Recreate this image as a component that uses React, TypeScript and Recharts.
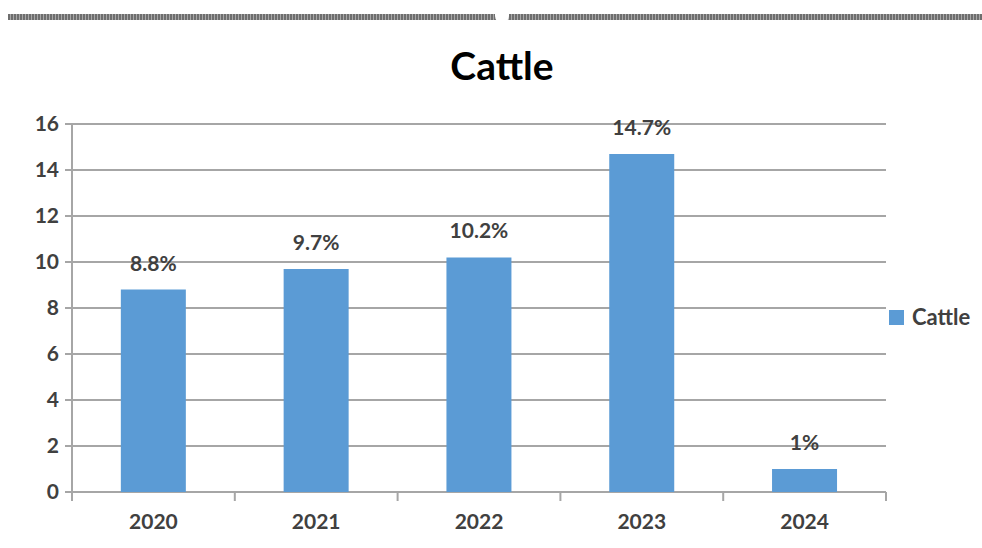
import React from "react";
import {
  BarChart,
  Bar,
  XAxis,
  YAxis,
  CartesianGrid,
  LabelList,
} from "recharts";

const years = ["2020", "2021", "2022", "2023", "2024"];
const cattle = [8.8, 9.7, 10.2, 14.7, 1];
const yTicks = [0, 2, 4, 6, 8, 10, 12, 14, 16];
const boundaryTicks = [0, 1, 2, 3, 4, 5];

const data = years.map((year, i) => ({ year, cattle: cattle[i], pos: i + 0.5 }));

const FONT = "Lato, 'Open Sans', sans-serif";
const TEXT = "#404040";
const GRID = "#a6a6a6";
const BLUE = "#5B9BD5";
const tickStyle = { fill: TEXT, fontSize: 21, fontWeight: 700, fontFamily: FONT };

export default function App() {
  return (
    <div
      style={{
        position: "absolute",
        left: 0,
        top: 0,
        width: 982,
        height: 548,
        background: "#fff",
        fontFamily: FONT,
        overflow: "hidden",
      }}
    >
      <div
        style={{
          position: "absolute",
          left: 8,
          top: 14,
          width: 974,
          height: 6,
          background:
            "repeating-linear-gradient(90deg, #6e6e6e 0px, #6e6e6e 2px, #a8a8a8 2px, #a8a8a8 3px)",
        }}
      />
      <div
        style={{
          position: "absolute",
          left: 495,
          top: 11,
          width: 14,
          height: 12,
          borderRadius: "0 0 7px 7px",
          background: "#fff",
        }}
      />
      <div
        style={{
          position: "absolute",
          left: 0,
          top: 40,
          width: 1004,
          textAlign: "center",
          fontSize: 39,
          lineHeight: "50px",
          fontWeight: 700,
          color: "#000",
        }}
      >
        Cattle
      </div>

      <div style={{ position: "absolute", left: 0, top: 0 }}>
        <BarChart
          width={982}
          height={548}
          data={data}
          margin={{ top: 124, right: 96, bottom: 0, left: 18 }}
          barCategoryGap="30%"
        >
          <CartesianGrid horizontal vertical={false} stroke={GRID} strokeWidth={2} />
          {/* boundary tick marks between the years */}
          <XAxis
            xAxisId="a"
            type="number"
            dataKey="pos"
            domain={[0, 5]}
            ticks={boundaryTicks}
            axisLine={false}
            tickFormatter={() => ""}
            tickLine={{ stroke: GRID, strokeWidth: 2 }}
            tickSize={9}
            height={10}
          />
          <XAxis
            dataKey="year"
            xAxisId="b"
            axisLine={false}
            tickLine={false}
            tick={tickStyle}
            tickSize={0}
            tickMargin={12}
            height={46}
          />
          <YAxis
            domain={[0, 16]}
            ticks={yTicks}
            width={54}
            axisLine={{ stroke: GRID, strokeWidth: 2 }}
            tickLine={{ stroke: GRID, strokeWidth: 2 }}
            tickSize={7}
            tickMargin={6}
            tick={tickStyle}
          />
          <Bar dataKey="cattle" xAxisId="b" fill={BLUE} isAnimationActive={false}>
            <LabelList
              dataKey="cattle"
              position="top"
              offset={19}
              formatter={(v: any) => `${v}%`}
              style={tickStyle}
            />
          </Bar>
        </BarChart>
      </div>

      <div
        style={{
          position: "absolute",
          left: 889,
          top: 302,
          display: "flex",
          alignItems: "center",
          fontSize: 22,
          lineHeight: "30px",
          color: TEXT,
          fontWeight: 700,
        }}
      >
        <span
          style={{ display: "inline-block", width: 15, height: 15, background: BLUE, marginRight: 8 }}
        />
        Cattle
      </div>
    </div>
  );
}
